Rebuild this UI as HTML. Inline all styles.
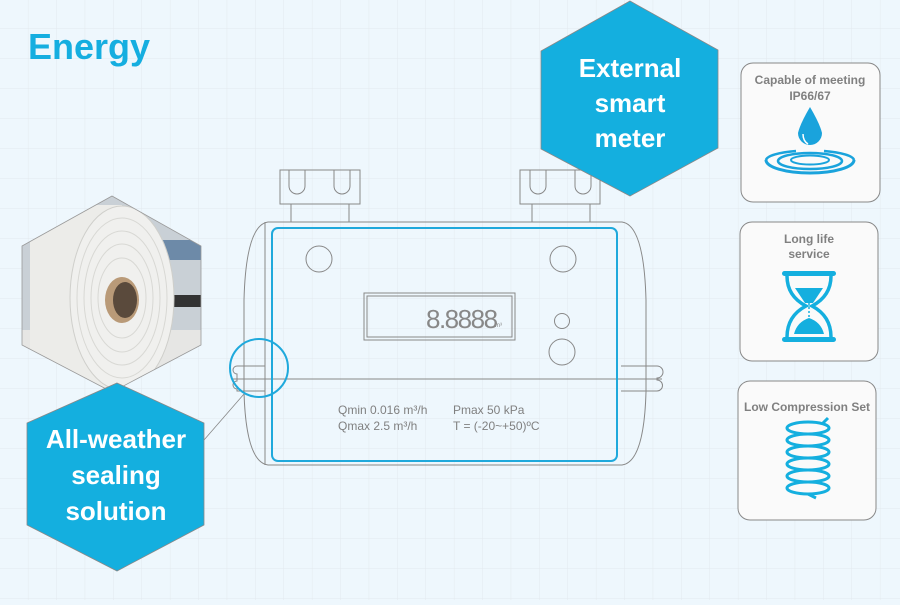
<!DOCTYPE html>
<html><head><meta charset="utf-8"><style>
html,body{margin:0;padding:0}
body{width:900px;height:600px;overflow:hidden;background:#eef7fd;font-family:"Liberation Sans",sans-serif}
</style></head><body>
<svg width="900" height="600" viewBox="0 0 900 600" xmlns="http://www.w3.org/2000/svg" font-family="Liberation Sans, sans-serif">
<defs>
<pattern id="g" width="28.4" height="30" patternUnits="userSpaceOnUse" x="0" y="-1">
<path d="M28.4 0V30M0 30H28.4" stroke="#e3e9ee" stroke-width="1" fill="none"/>
</pattern>
<clipPath id="hx"><polygon points="112,196 201,246 201,345 112,392 22,345 22,246"/></clipPath>
</defs>
<rect width="900" height="600" fill="#eef7fd"/>
<rect width="900" height="600" fill="url(#g)"/>
<text x="28" y="59" font-size="36" font-weight="bold" fill="#15aee0">Energy</text>

<!-- photo hexagon -->
<g clip-path="url(#hx)">
<rect x="0" y="190" width="210" height="210" fill="#c9d0d6"/>
<rect x="160" y="240" width="50" height="20" fill="#6d8aa8"/>
<rect x="160" y="295" width="50" height="12" fill="#333"/>
<rect x="0" y="330" width="210" height="70" fill="#e6e6e4"/>
<rect x="30" y="205" width="92" height="190" fill="#ecece9"/>
<ellipse cx="122" cy="298" rx="52" ry="92" fill="#f0f0ee" stroke="#cfcfcb"/>
<ellipse cx="122" cy="298" rx="45" ry="80" fill="none" stroke="#d8d8d4"/>
<ellipse cx="122" cy="298" rx="38" ry="67" fill="none" stroke="#d8d8d4"/>
<ellipse cx="122" cy="298" rx="31" ry="54" fill="none" stroke="#d8d8d4"/>
<ellipse cx="122" cy="298" rx="24" ry="40" fill="none" stroke="#d8d8d4"/>
<ellipse cx="122" cy="300" rx="17" ry="23" fill="#b99a78"/>
<ellipse cx="125" cy="300" rx="12" ry="18" fill="#5a4a3c"/>
</g>
<polygon points="112,196 201,246 201,345 112,392 22,345 22,246" fill="none" stroke="#999" stroke-width="0.8"/>

<!-- blue hex bottom-left -->
<polygon points="117,383 204,423 204,525 117,571 27,525 27,423" fill="#14afdf" stroke="#888" stroke-width="0.8"/>
<g fill="#fff" font-size="26" font-weight="bold" text-anchor="middle">
<text x="116" y="448">All-weather</text>
<text x="116" y="484">sealing</text>
<text x="116" y="520">solution</text>
</g>
<line x1="204" y1="440" x2="244" y2="394" stroke="#888" stroke-width="0.8"/>

<!-- meter -->
<g fill="none" stroke="#888" stroke-width="1">
<rect x="280" y="170" width="80" height="34"/>
<path d="M291 204V222M349 204V222M532 204V222M590 204V222"/>
<rect x="520" y="170" width="80" height="34"/>
<path d="M289 170V186a8 8 0 0 0 16 0V170M334 170V186a8 8 0 0 0 16 0V170M530 170V186a8 8 0 0 0 16 0V170M575 170V186a8 8 0 0 0 16 0V170"/>
<path d="M268 222H622Q644 225 646 300L646 392Q644 462 622 465H268Q246 462 244 392L244 300Q246 225 268 222Z"/>
<path d="M265 222V465"/>
<circle cx="319" cy="259" r="13"/><circle cx="563" cy="259" r="13"/>
<circle cx="562" cy="321" r="7.5"/><circle cx="562" cy="352" r="13"/>
<rect x="364" y="293" width="151" height="47"/>
<rect x="367" y="296" width="145" height="41"/>
<path d="M233 379H662"/>
<path d="M265 366H237a4 4 0 0 0 0 8v7a4 4 0 0 0 0 8V391H265"/>
<path d="M621 366H657a4 4 0 0 1 0 12v2a4 4 0 0 1 0 11H621"/>
</g>
<text x="426" y="328" font-size="26" fill="#888" font-family="Liberation Sans, sans-serif" letter-spacing="-1.5" transform="scale(1,1)">8.8888</text>
<text x="495" y="327" font-size="6" fill="#888">m³</text>
<rect x="272" y="228" width="345" height="233" rx="6" fill="none" stroke="#1fa9dc" stroke-width="2"/>
<circle cx="259" cy="368" r="29" fill="none" stroke="#1fa9dc" stroke-width="2"/>
<g font-size="12" fill="#808080">
<text x="338" y="414">Qmin 0.016 m³/h</text>
<text x="338" y="430">Qmax 2.5 m³/h</text>
<text x="453" y="414">Pmax 50 kPa</text>
<text x="453" y="430">T = (-20~+50)ºC</text>
</g>

<!-- top hex -->
<polygon points="630,1 718,50 718,148 630,196 541,149 541,51" fill="#14afdf" stroke="#888" stroke-width="0.8"/>
<g fill="#fff" font-size="26" font-weight="bold" text-anchor="middle">
<text x="630" y="77">External</text>
<text x="630" y="112">smart</text>
<text x="630" y="147">meter</text>
</g>

<!-- cards -->
<g fill="#fafafa" stroke="#888" stroke-width="1">
<rect x="741" y="63" width="139" height="139" rx="12"/>
<rect x="740" y="222" width="138" height="139" rx="12"/>
<rect x="738" y="381" width="138" height="139" rx="12"/>
</g>
<g fill="#808080" font-size="12" font-weight="bold" text-anchor="middle">
<text x="810" y="84">Capable of meeting</text>
<text x="810" y="100">IP66/67</text>
<text x="809" y="243">Long life</text>
<text x="809" y="258">service</text>
<text x="807" y="411">Low Compression Set</text>
</g>
<!-- drop -->
<path d="M810 107Q800 124 798 133a12 12 0 0 0 24 0Q820 124 810 107Z" fill="#1aa3dc"/>
<path d="M803 134q0 7 5 10" stroke="#fff" stroke-width="1.5" fill="none"/>
<g fill="none" stroke="#1aa3dc">
<path d="M766 160a44 13 0 0 0 88 0" stroke-width="3"/>
<path d="M766 160a44 10 0 0 1 30 -9" stroke-width="2.5"/>
<path d="M824 151a44 10 0 0 1 30 9" stroke-width="2.5"/>
<ellipse cx="810" cy="161" rx="32" ry="8" stroke-width="2.5"/>
<ellipse cx="810" cy="160" rx="19" ry="4.5" stroke-width="2"/>
</g>
<!-- hourglass -->
<g fill="#14afdf">
<rect x="782" y="271" width="54" height="5" rx="2.5"/>
<rect x="782" y="337" width="54" height="5" rx="2.5"/>
<path d="M795 288H823L813 303H805Z"/>
<path d="M809 318Q797 322 794 334H824Q821 322 809 318Z"/>
</g>
<path d="M787 276Q787 296 806 306Q787 316 787 337M831 276Q831 296 812 306Q831 316 831 337" fill="none" stroke="#14afdf" stroke-width="3.5"/>
<path d="M809 303V318" stroke="#14afdf" stroke-width="1.5" stroke-dasharray="2 2"/>
<!-- spring -->
<g fill="none" stroke="#14afdf" stroke-width="3">
<ellipse cx="808" cy="428" rx="21" ry="6"/>
<ellipse cx="808" cy="440" rx="21" ry="6"/>
<ellipse cx="808" cy="452" rx="21" ry="6"/>
<ellipse cx="808" cy="464" rx="21" ry="6"/>
<ellipse cx="808" cy="476" rx="21" ry="6"/>
<ellipse cx="808" cy="488" rx="21" ry="6"/>
<path d="M822 424L828 418M808 494L816 498"/>
</g>
</svg>
</body></html>
